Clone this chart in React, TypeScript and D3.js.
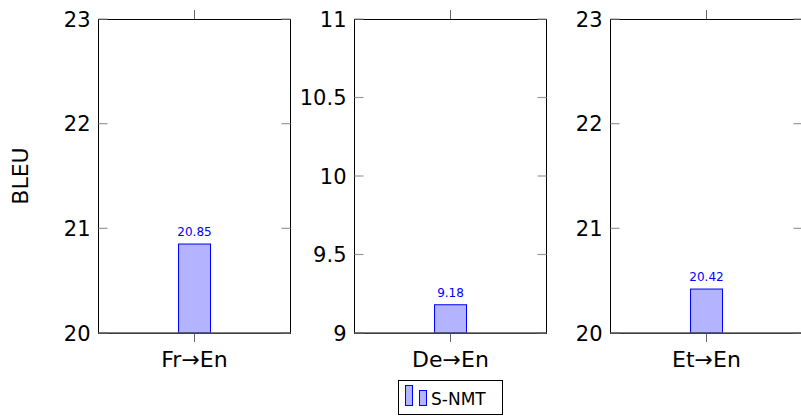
import * as d3 from 'd3';

const pairs = ['Fr→En', 'De→En', 'Et→En'];
const snmt = [20.85, 9.18, 20.42];
const yDomains = [[20, 23], [9, 11], [20, 23]];
const yTicks = [[20, 21, 22, 23], [9, 9.5, 10, 10.5, 11], [20, 21, 22, 23]];
const seriesName = 'S-NMT';

const W = 801, H = 416;
const FONT = '"DejaVu Sans", sans-serif';
const top = 19, bottom = 333, pw = 192;
const panelX = d3.scaleLinear().domain([0, 1]).range([98.5, 354.5]);
const BLUE = '#0000ff', FILL = '#b3b3ff', TICK = '#9a9a9a';

function Panel({ i }: { i: number }) {
  const left = panelX(i);
  const y = d3.scaleLinear().domain(yDomains[i]).range([bottom, top]);
  const x = d3.scaleBand().domain([pairs[i]]).range([left, left + pw]);
  const cx = Math.floor(x(pairs[i])! + x.bandwidth() / 2) + 0.5;
  const bw = 32;
  const v = snmt[i];
  return (
    <g>
      <rect x={left} y={top + 0.5} width={pw} height={bottom - top} fill="none" stroke="#000" strokeWidth={1} />
      {yTicks[i].map(t => (
        <g key={t}>
          <line x1={left} x2={left + 9} y1={y(t)} y2={y(t)} stroke={TICK} strokeWidth={1.2} />
          <line x1={left + pw - 9} x2={left + pw} y1={y(t)} y2={y(t)} stroke={TICK} strokeWidth={1.2} />
          <text x={left - 8} y={y(t)} dy="0.36em" textAnchor="end" fontSize={21} fontFamily={FONT} fill="#000">{String(t)}</text>
        </g>
      ))}
      <line x1={cx} x2={cx} y1={top - 9} y2={top} stroke="#666" strokeWidth={1} />
      <line x1={cx} x2={cx} y1={bottom} y2={bottom + 9} stroke="#666" strokeWidth={1} />
      <rect x={cx - bw / 2} y={y(v)} width={bw} height={y(yDomains[i][0]) - y(v)} fill={FILL} stroke={BLUE} strokeWidth={1} />
      <line x1={left} x2={left + pw} y1={bottom} y2={bottom} stroke="#555" strokeWidth={1.6} />
      <text x={cx} y={y(v) - 8} textAnchor="middle" fontSize={12} fontFamily={FONT} fill={BLUE}>{v.toFixed(2)}</text>
      <text x={cx} y={367} textAnchor="middle" fontSize={22} fontFamily={FONT} fill="#000">{pairs[i]}</text>
    </g>
  );
}

export default function App() {
  return (
    <div style={{ position: 'absolute', left: 0, top: 0 }}>
      <svg width={W} height={H} style={{ display: 'block', background: '#fff' }}>
        <text transform={`translate(28,176) rotate(-90)`} textAnchor="middle" fontSize={22} fontFamily={FONT} fill="#000">BLEU</text>
        {pairs.map((_, i) => <Panel key={i} i={i} />)}
        <g>
          <rect x={398.5} y={380.5} width={104} height={34} fill="#fff" stroke="#000" strokeWidth={1} />
          <rect x={405.5} y={385.5} width={7} height={20} fill={FILL} stroke={BLUE} strokeWidth={1} />
          <rect x={419.5} y={390.5} width={7} height={15} fill={FILL} stroke={BLUE} strokeWidth={1} />
          <text x={431} y={405} fontSize={17} fontFamily={FONT} fill="#000">{seriesName}</text>
        </g>
      </svg>
    </div>
  );
}
